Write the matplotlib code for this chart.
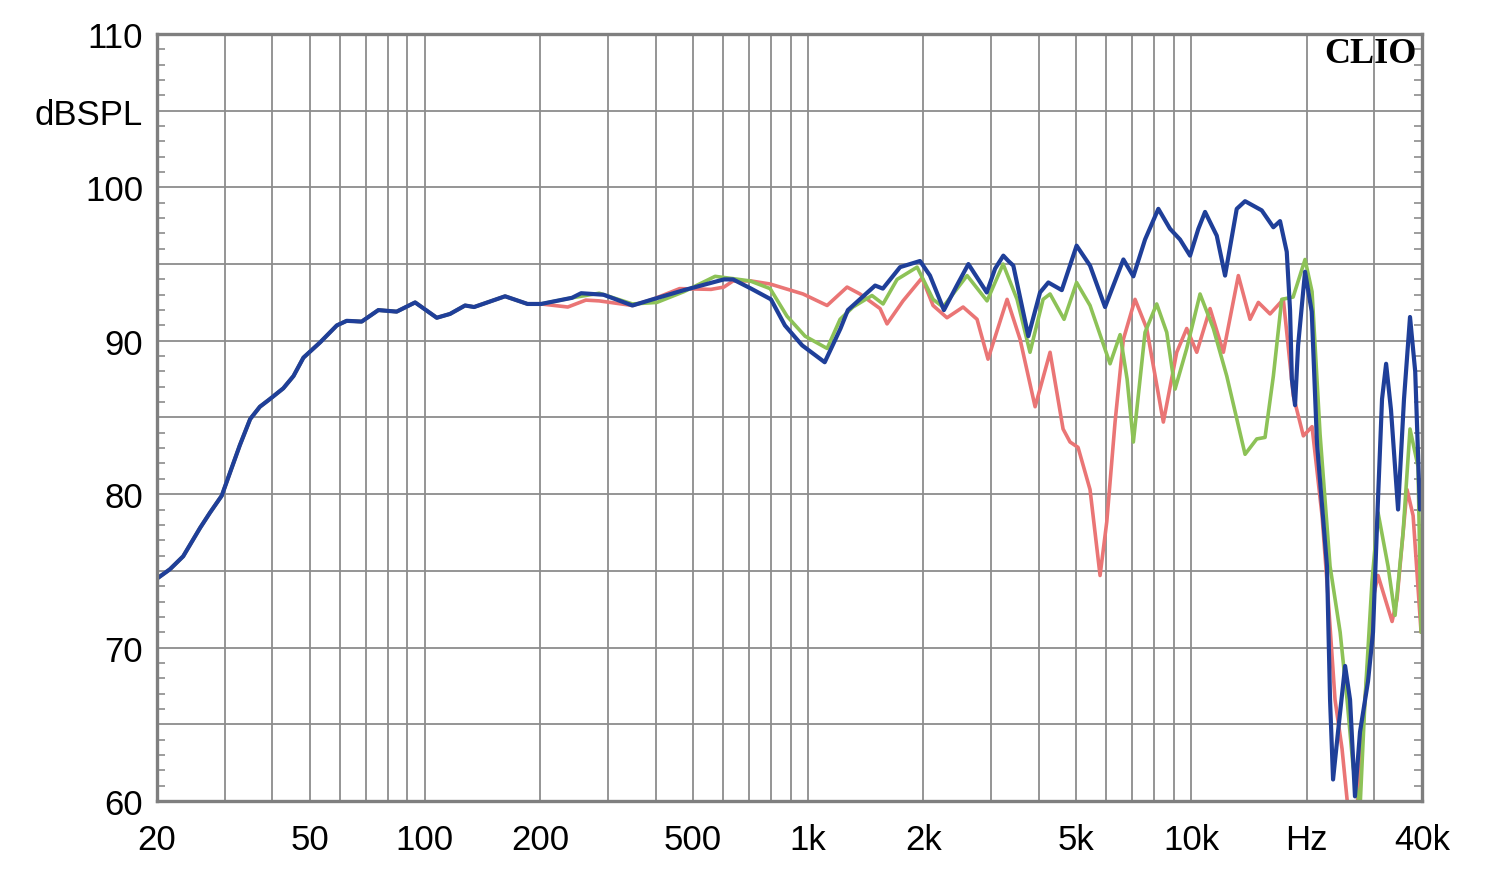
import numpy as np
import matplotlib
matplotlib.use('Agg')
import matplotlib.pyplot as plt
from matplotlib.ticker import MultipleLocator

plt.rcParams['font.family'] = ['Liberation Sans', 'DejaVu Sans']

# shared low-frequency part (all three curves lie on top of each other here)
low_f = [20, 21.6, 23.4, 25.9, 27.5, 29.5, 31.0, 32.9, 35.0, 37.1, 39.4, 42.7, 45.4,
         48.2, 53.3, 58.9, 62.5, 68.4, 75.6, 84.4, 94.3, 107.4, 116.3, 127.3, 134.4,
         161.9, 185.3, 201]
low_db = [74.5, 75.1, 75.95, 77.8, 78.8, 79.9, 81.4, 83.2, 84.9, 85.7, 86.2, 86.9, 87.7,
          88.9, 89.9, 91.0, 91.3, 91.25, 92.0, 91.9, 92.5, 91.5, 91.75, 92.3, 92.2,
          92.9, 92.4, 92.4]

blue_f = [242, 255.7, 292.6, 348, 393, 474, 603, 637, 710, 800, 870, 965, 1105,
          1215, 1270, 1310, 1496, 1567, 1738, 1959, 2080, 2262, 2444, 2620, 2926,
          3076, 3232, 3332, 3432, 3756, 4030, 4236, 4592, 5020, 5442, 5956, 6650,
          7060, 7574, 8204, 8800, 9346, 9926, 10434, 10862, 11654, 12250, 13140,
          13814, 15270, 16374, 17046, 17746, 18102, 18300, 18654, 19000, 19808,
          20620, 21285, 22600, 23020, 23440, 24147, 25200, 25960, 26740, 27560,
          28920, 29800, 30710, 31460, 32240, 33200, 34640, 35900, 37220, 38400, 39500]
blue_db = [92.8, 93.1, 93.0, 92.3, 92.7, 93.3, 94.0, 94.0, 93.4, 92.7, 91.0, 89.7, 88.6,
           90.8, 92.0, 92.3, 93.6, 93.4, 94.8, 95.2, 94.25, 92.0, 93.6, 95.0, 93.15,
           94.7, 95.55, 95.2, 94.9, 90.3, 93.15, 93.8, 93.3, 96.2, 94.9, 92.2, 95.3,
           94.2, 96.6, 98.6, 97.3, 96.6, 95.55, 97.3, 98.4, 96.85, 94.25, 98.6,
           99.1, 98.5, 97.4, 97.8, 95.8, 92.0, 87.5, 85.8, 89.7, 94.5,
           91.9, 83.3, 75.3, 66.6, 61.4, 64.5, 68.8, 66.6, 60.3, 64.5,
           67.8, 71.0, 79.7, 86.2, 88.5, 85.5, 79.0, 86.2, 91.55, 88.0, 79.0]

red_f = [236, 263, 285, 348, 393, 462, 558, 603, 637, 710, 796, 970, 1121, 1264,
         1366, 1541, 1607, 1769, 1983, 2119, 2304, 2538, 2760, 2948, 3306, 3574, 3912,
         4280, 4628, 4826, 5064, 5442, 5780, 6018, 6325, 6650, 7132, 7650, 8454,
         9162, 9730, 10334, 11194, 12126, 13268, 14234, 14964, 16052, 17386, 18464,
         19608, 20660, 21940, 22600, 23720, 24740, 25640, 27060, 28400,
         29800, 30710, 33420, 34440, 36560, 37920, 39780]
red_db = [92.2, 92.65, 92.6, 92.3, 92.7, 93.4, 93.35, 93.5, 93.9, 93.9, 93.7, 93.05, 92.3, 93.5,
          93.05, 92.1, 91.1, 92.6, 94.1, 92.3, 91.5, 92.2, 91.4, 88.8, 92.7, 90.1, 85.7,
          89.25, 84.25, 83.4, 83.05, 80.3, 74.7, 78.2, 84.7, 90.1, 92.7, 90.8, 84.7,
          89.25, 90.8, 89.25, 92.1, 89.25, 94.25, 91.4, 92.5, 91.75, 92.7, 86.4,
          83.8, 84.4, 78.6, 74.3, 66.6, 63.4, 59.5, 59.5, 66.6,
          73.2, 74.7, 71.7, 73.2, 80.3, 78.6, 71.0]

green_f = [242, 285, 348, 403, 474, 572, 637, 706, 796, 881, 982, 1121, 1212, 1310,
           1468, 1569, 1707, 1925, 2119, 2250, 2600, 2931, 3228, 3510, 3794, 4104,
           4280, 4656, 5020, 5442, 6138, 6520, 6800, 7060, 7574, 8124, 8628, 9070,
           9730, 10540, 11418, 12376, 13814, 14820, 15576, 16374, 17220, 18440,
           19808, 20660, 21680, 23020, 24460, 25500, 26420, 27560, 28400, 29620,
           30710, 32620, 34020, 35700, 37220, 39060, 39780]
green_db = [92.8, 93.1, 92.4, 92.5, 93.2, 94.2, 94.05, 93.9, 93.4, 91.6, 90.3, 89.5, 91.4, 92.2,
            92.95, 92.4, 94.0, 94.8, 92.7, 92.2, 94.25, 92.6, 95.0, 92.7, 89.25, 92.7,
            93.05, 91.4, 93.8, 92.3, 88.5, 90.4, 87.5, 83.4, 90.55, 92.4, 90.55, 86.85,
            89.5, 93.05, 90.8, 87.7, 82.6, 83.6, 83.7, 87.7, 92.7, 92.85,
            95.3, 93.2, 83.9, 75.3, 71.0, 66.6, 62.3, 59.5, 66.6, 74.3,
            78.8, 75.3, 72.1, 77.5, 84.25, 81.8, 71.0]

x_ticks = [20, 50, 100, 200, 500, 1000, 2000, 5000, 10000, 20000, 40000]
x_labels = ['20', '50', '100', '200', '500', '1k', '2k', '5k', '10k', 'Hz', '40k']
y_ticks = [60, 65, 70, 75, 80, 85, 90, 95, 100, 105, 110]
y_labels = ['60', '', '70', '', '80', '', '90', '', '100', 'dBSPL', '110']

fig = plt.figure(figsize=(15, 8.7), dpi=100)
ax = fig.add_axes([0.1047, 0.0782, 0.8433, 0.8816])

grid_c = '#8c8c8c'
ax.plot(low_f + red_f, low_db + red_db, color='#ea7575', lw=2.6,
        solid_joinstyle='round', solid_capstyle='round', zorder=3)
ax.plot(low_f + green_f, low_db + green_db, color='#8dc257', lw=2.6,
        solid_joinstyle='round', solid_capstyle='round', zorder=4)
ax.plot(low_f + blue_f, low_db + blue_db, color='#1f3f99', lw=3.0,
        solid_joinstyle='round', solid_capstyle='round', zorder=5)

ax.set_xscale('log')
ax.set_xlim(20, 40000)
ax.set_ylim(60, 110)

minor_grid = [m * d for d in (10, 100, 1000, 10000) for m in range(1, 10)
              if 20 <= m * d <= 40000]
ax.set_xticks(minor_grid, minor=True)
ax.set_xticks(x_ticks, x_labels)
ax.xaxis.set_minor_formatter(plt.NullFormatter())
ax.grid(axis='x', which='both', color=grid_c, lw=1.3)

ax.set_yticks(y_ticks, y_labels)
ax.yaxis.set_minor_locator(MultipleLocator(1))
ax.grid(axis='y', which='major', color=grid_c, lw=1.3)

ax.tick_params(axis='x', which='both', length=0, pad=16, labelsize=25)
ax.tick_params(axis='y', which='major', length=0, pad=10, labelsize=25)
ax.tick_params(axis='y', which='minor', direction='in', length=6, width=1.2,
               color=grid_c, left=True, right=True)

for s in ax.spines.values():
    s.set_color('#7f7f7f')
    s.set_linewidth(2.4)
    s.set_zorder(6)

ax.text(0.996, 0.996, 'CLIO', transform=ax.transAxes, ha='right', va='top',
        fontsize=26, fontweight='bold', family=['Liberation Serif', 'DejaVu Serif'],
        color='black', zorder=7)

fig.savefig('out.png', dpi=100)
